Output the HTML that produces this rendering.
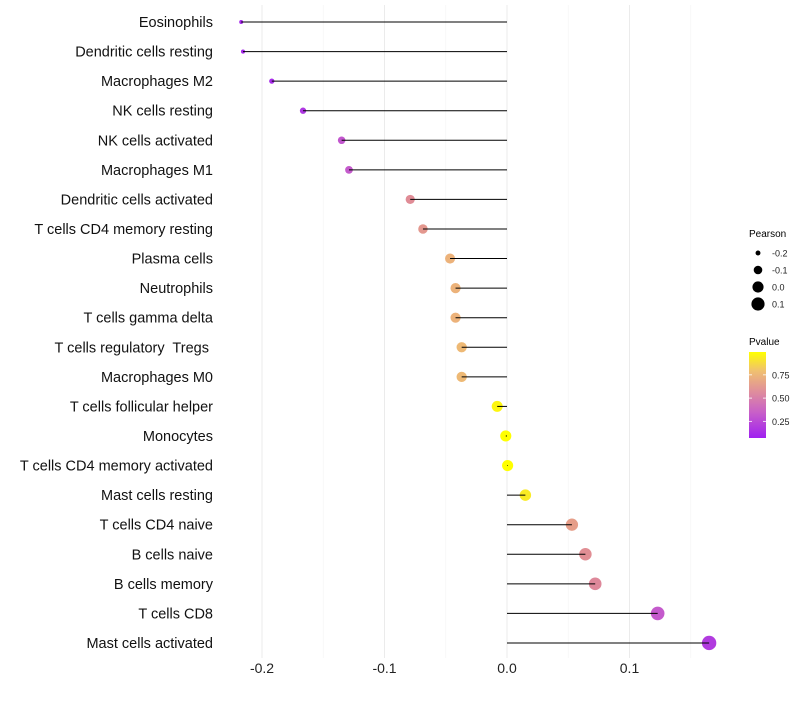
<!DOCTYPE html>
<html><head><meta charset="utf-8"><style>
body{margin:0;background:#fff;font-family:"Liberation Sans",sans-serif}
svg text{font-family:"Liberation Sans",sans-serif;white-space:pre}
</style></head><body>
<svg id="c" width="800" height="700" xmlns="http://www.w3.org/2000/svg">
<defs><linearGradient id="pg" x1="0" y1="1" x2="0" y2="0">
<stop offset="0" stop-color="#A020F0"/><stop offset="0.3" stop-color="#C860C8"/><stop offset="0.55" stop-color="#E0909A"/><stop offset="0.78" stop-color="#F0C070"/><stop offset="1" stop-color="#FFFF00"/></linearGradient></defs>
<g id="grid"></g>
<g id="pts"></g>
<g id="marks"></g>
<g id="ylab"></g>
<g id="xlab"></g>
<g>
<text x="749" y="237" font-size="10">Pearson</text>
<g id="sizeleg"></g>
</g>
<g>
<text x="749" y="345" font-size="10">Pvalue</text>
<rect x="749" y="352" width="17" height="86" fill="url(#pg)"/>
<g id="pleg"></g>
</g>
</svg>
<script>
const cells=["Eosinophils","Dendritic cells resting","Macrophages M2","NK cells resting","NK cells activated","Macrophages M1","Dendritic cells activated","T cells CD4 memory resting","Plasma cells","Neutrophils","T cells gamma delta","T cells regulatory  Tregs ","Macrophages M0","T cells follicular helper","Monocytes","T cells CD4 memory activated","Mast cells resting","T cells CD4 naive","B cells naive","B cells memory","T cells CD8","Mast cells activated"];
const pearson=[-0.217,-0.2155,-0.192,-0.1665,-0.135,-0.129,-0.079,-0.0686,-0.0465,-0.042,-0.042,-0.037,-0.037,-0.008,-0.001,0.0005,0.015,0.053,0.064,0.072,0.123,0.165];
const pvalue=[0.04,0.04,0.06,0.12,0.28,0.3,0.55,0.6,0.72,0.72,0.72,0.75,0.75,0.97,1.0,1.0,0.93,0.63,0.56,0.53,0.3,0.14];
const xTicks=[-0.2,-0.1,0.0,0.1];
const xTickLabels=["-0.2","-0.1","0.0","0.1"];
const sizeBreaks=[-0.2,-0.1,0.0,0.1];
const pBreaks=[0.25,0.5,0.75];
const NS="http://www.w3.org/2000/svg";
const x=v=>507+v*1225;
const y=i=>22+i*29.57;
const r=v=>Math.sqrt(Math.max(1,31+125*v));
const py=p=>444.6-p*93;
const stops=[[0,[160,32,240]],[0.3,[196,90,204]],[0.55,[224,140,150]],[0.78,[240,192,112]],[1,[255,255,0]]];
function col(p){for(let k=1;k<stops.length;k++){if(p<=stops[k][0]){const a=stops[k-1],b=stops[k],t=(p-a[0])/(b[0]-a[0]);return "rgb("+a[1].map((c,j)=>Math.round(c+(b[1][j]-c)*t)).join(",")+")";}}return "rgb(255,255,0)";}
function mk(t,attrs,parent){const e=document.createElementNS(NS,t);for(const k in attrs)e.setAttribute(k,attrs[k]);document.getElementById(parent).appendChild(e);return e;}
for(let k=-4;k<=3;k++){const v=k*0.05;const major=k%2===0;const g=mk("line",{x1:x(v),x2:x(v),y1:5,y2:658,stroke:major?"#ebebeb":"#f4f4f4","stroke-width":major?1:0.6},"grid");

}
xTicks.forEach((t,i)=>{const e=mk("text",{x:x(t),y:673,"font-size":14,"text-anchor":"middle",fill:"#222"},"xlab");e.textContent=xTickLabels[i];

});
cells.forEach((c,i)=>{
const t=mk("text",{x:213,y:y(i)+5,"font-size":14.5,"text-anchor":"end",fill:"#111"},"ylab");t.textContent=c;


const d=mk("circle",{cx:x(pearson[i]),cy:y(i),r:r(pearson[i]),fill:col(pvalue[i])},"pts");


const l=mk("line",{x1:x(0),x2:x(pearson[i]),y1:y(i),y2:y(i),stroke:"#000","stroke-width":1},"marks");


});
sizeBreaks.forEach((s,i)=>{const yy=253+i*17;
const c=mk("circle",{cx:758,cy:yy,r:r(s),fill:"#000"},"sizeleg");


const t=mk("text",{x:772,y:yy+3.5,"font-size":9,fill:"#222"},"sizeleg");t.textContent=s.toFixed(1);

});
pBreaks.forEach(p=>{const yy=py(p);
const tk=mk("line",{x1:749,x2:752,y1:yy,y2:yy,stroke:"#fff","stroke-width":0.8},"pleg");


const tk2=mk("line",{x1:763,x2:766,y1:yy,y2:yy,stroke:"#fff","stroke-width":0.8},"pleg");


const t=mk("text",{x:772,y:yy+3.5,"font-size":9,fill:"#222"},"pleg");t.textContent=p.toFixed(2);

});
</script>
</body></html>
